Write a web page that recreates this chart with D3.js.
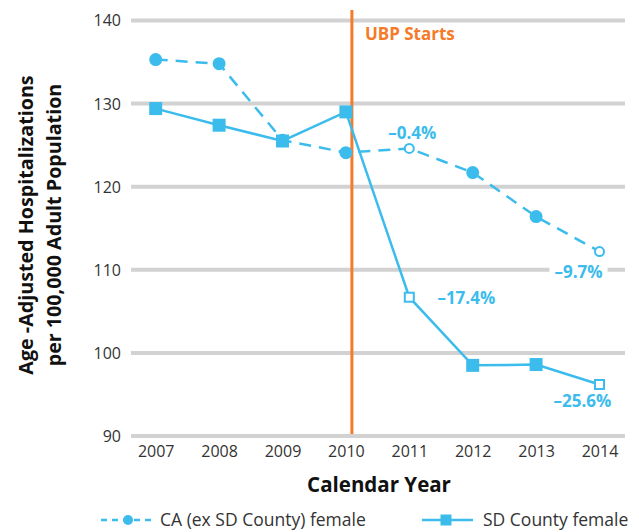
<!DOCTYPE html>
<html>
<head>
<meta charset="utf-8">
<script src="https://cdn.jsdelivr.net/npm/d3@7"></script>
<style>
  body { margin: 0; background: #fff; }
  text { font-family: "Open Sans", Roboto, sans-serif; }
</style>
</head>
<body>
<svg id="chart" width="639" height="532"></svg>
<script>
const W = 639, H = 532

// data
const YEARS = [2007, 2008, 2009, 2010, 2011, 2012, 2013, 2014]
const CA = [135.3, 134.8, 125.6, 124.1, 124.6, 121.7, 116.4, 112.2]
const SD = [129.4, 127.4, 125.5, 129.0, 106.7, 98.5, 98.6, 96.2]
const OPEN_YEARS = [2011, 2014]
const Y_TICKS = [90, 100, 110, 120, 130, 140]
const START_YEAR = 2010
const CA_LABELS = [{ year: 2011, v: 124.6, text: '–0.4%' }, { year: 2014, v: 112.2, text: '–9.7%' }]
const SD_LABELS = [{ year: 2011, v: 106.7, text: '–17.4%' }, { year: 2014, v: 96.2, text: '–25.6%' }]

const BLUE = '#3cbcec'
const ORANGE = '#f47b2a'
const GRID_L = 131, GRID_R = 625

const svg = d3.select('#chart')

const x = d3.scaleLinear().domain([2007, 2014]).range([155.7, 599.5])
const y = d3.scaleLinear().domain([90, 140]).range([436, 20.5])

// gridlines
svg.selectAll('line.grid')
  .data(Y_TICKS)
  .enter()
  .append('line')
  .attr('x1', GRID_L).attr('x2', GRID_R)
  .attr('y1', d => y(d)).attr('y2', d => y(d))
  .attr('stroke', '#d2d2d2')
  .attr('stroke-width', 4)

// y axis labels
const yAxis = svg.append('g')
  .attr('transform', `translate(${GRID_L - 8},0)`)
  .call(d3.axisLeft(y).tickValues(Y_TICKS).tickSize(0).tickPadding(2))
yAxis.select('.domain').remove()
yAxis.selectAll('text').attr('font-size', 16).attr('fill', '#333').attr('dy', '0.34em')
  .style('font-family', '"Open Sans", sans-serif')

// x axis labels
const xAxis = svg.append('g')
  .attr('transform', `translate(0,${y(90) + 9})`)
  .call(d3.axisBottom(x).tickValues(YEARS).tickFormat(d3.format('d')).tickSize(0).tickPadding(0))
xAxis.select('.domain').remove()
xAxis.selectAll('text').attr('font-size', 16).attr('fill', '#333').attr('dy', '0.75em')
  .style('font-family', '"Open Sans", sans-serif')

svg.append('text')
  .attr('x', 379).attr('y', 485)
  .attr('dy', '0.35em')
  .attr('text-anchor', 'middle')
  .attr('font-size', 20.5).attr('font-weight', 'bold').attr('fill', '#111')
  .text('Calendar Year')

const yTitle = svg.append('text')
  .attr('transform', 'translate(0,225) rotate(-90)')
  .attr('text-anchor', 'middle')
  .attr('font-size', 19.7).attr('font-weight', 'bold').attr('fill', '#111')
yTitle.append('tspan').attr('x', 0).attr('y', 33).text('Age -Adjusted Hospitalizations')
yTitle.append('tspan').attr('x', 0).attr('y', 61).text('per 100,000 Adult Population')

// UBP start line
svg.append('line')
  .attr('x1', x(START_YEAR) + 6).attr('x2', x(START_YEAR) + 6)
  .attr('y1', 10).attr('y2', 434)
  .attr('stroke', ORANGE).attr('stroke-width', 3)
svg.append('text')
  .attr('x', x(START_YEAR) + 19).attr('y', 40)
  .attr('font-size', 17).attr('font-weight', 'bold').attr('fill', ORANGE)
  .text('UBP Starts')

const line = d3.line().x((d, i) => x(YEARS[i])).y(d => y(d))

// CA dashed series
svg.append('path')
  .datum(CA)
  .attr('d', line)
  .attr('fill', 'none')
  .attr('stroke', BLUE).attr('stroke-width', 2.5)
  .attr('stroke-dasharray', '12,8')

svg.selectAll('circle.ca')
  .data(CA)
  .enter()
  .append('circle')
  .attr('cx', (d, i) => x(YEARS[i]))
  .attr('cy', d => y(d))
  .attr('r', (d, i) => OPEN_YEARS.includes(YEARS[i]) ? 4.5 : 5.5)
  .attr('fill', (d, i) => OPEN_YEARS.includes(YEARS[i]) ? '#fff' : BLUE)
  .attr('stroke', BLUE).attr('stroke-width', 2)

// SD solid series
svg.append('path')
  .datum(SD)
  .attr('d', line)
  .attr('fill', 'none')
  .attr('stroke', BLUE).attr('stroke-width', 2.5)

svg.selectAll('rect.sd')
  .data(SD)
  .enter()
  .append('rect')
  .attr('x', (d, i) => x(YEARS[i]) - (OPEN_YEARS.includes(YEARS[i]) ? 4.5 : 5.5))
  .attr('y', (d, i) => y(d) - (OPEN_YEARS.includes(YEARS[i]) ? 4.5 : 5.5))
  .attr('width', (d, i) => OPEN_YEARS.includes(YEARS[i]) ? 9 : 11)
  .attr('height', (d, i) => OPEN_YEARS.includes(YEARS[i]) ? 9 : 11)
  .attr('fill', (d, i) => OPEN_YEARS.includes(YEARS[i]) ? '#fff' : BLUE)
  .attr('stroke', BLUE).attr('stroke-width', 2)

// percent labels
const labelOffsets = {
  'CA2011': [3, -15], 'CA2014': [-21, 21],
  'SD2011': [57, 1], 'SD2014': [-17, 17]
}
function addLabels(list, key) {
  list.forEach(d => {
    const off = labelOffsets[key + d.year]
    const t = svg.append('text')
      .attr('x', x(d.year) + off[0]).attr('y', y(d.v) + off[1])
      .attr('dy', '0.35em')
      .attr('text-anchor', 'middle')
      .attr('font-size', 17).attr('font-weight', 'bold').attr('fill', BLUE)
      .text(d.text)
    if (key + d.year === 'CA2014') {
      // white knock-out behind the label on the 110 gridline
      const bb = t.node().getBBox()
      svg.insert('rect', () => t.node())
        .attr('x', bb.x - 5).attr('y', bb.y + 2).attr('width', bb.width + 10).attr('height', bb.height - 4)
        .attr('fill', '#fff')
    }
  })
}
addLabels(CA_LABELS, 'CA')
addLabels(SD_LABELS, 'SD')

// legend
const lg = svg.append('g').attr('transform', 'translate(0,520)')
lg.append('line').attr('x1', 101).attr('x2', 153).attr('stroke', BLUE).attr('stroke-width', 2.5).attr('stroke-dasharray', '6,5')
lg.append('circle').attr('cx', 128).attr('r', 5).attr('fill', BLUE)
lg.append('text').attr('x', 160).attr('dy', '0.35em').attr('font-size', 17.5).attr('fill', '#333').text('CA (ex SD County) female')
lg.append('line').attr('x1', 422).attr('x2', 473).attr('stroke', BLUE).attr('stroke-width', 2.5)
lg.append('rect').attr('x', 440.5).attr('y', -5.5).attr('width', 11).attr('height', 11).attr('fill', BLUE)
lg.append('text').attr('x', 483).attr('dy', '0.35em').attr('font-size', 17.5).attr('fill', '#333').text('SD County female')
</script>
</body>
</html>
